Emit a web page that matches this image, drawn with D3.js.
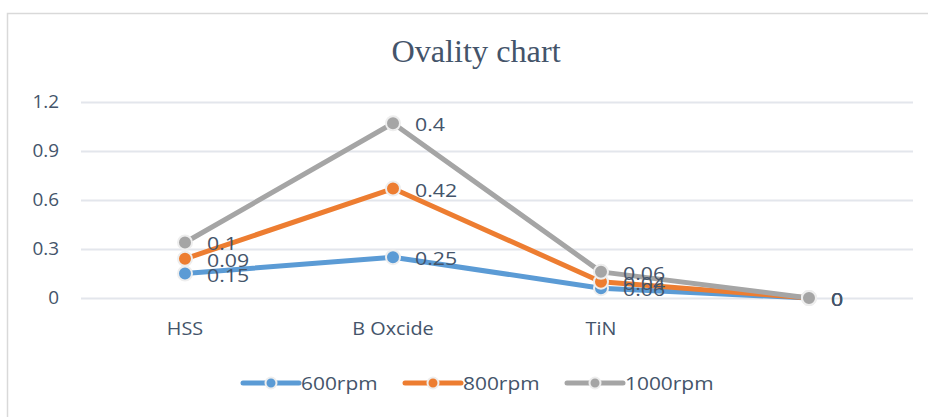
<!DOCTYPE html>
<html><head><meta charset="utf-8">
<script src="https://cdn.jsdelivr.net/npm/d3@7"></script>
<style>body{margin:0;background:#fff}svg{display:block}</style>
</head><body>
<svg id="c" width="928" height="417"></svg>
<script>
const categories = ["HSS", "B Oxcide", "TiN", ""];
const seriesNames = ["600rpm", "800rpm", "1000rpm"];
const rpm600 = [0.15, 0.25, 0.06, 0];
const rpm800 = [0.09, 0.42, 0.04, 0];
const rpm1000 = [0.1, 0.4, 0.06, 0];
const yTicks = [0, 0.3, 0.6, 0.9, 1.2];
const colors = ["#5b9bd5", "#ed7d31", "#a5a5a5"];

const svg = d3.select("#c");
const M = {l: 81, r: 913, t: 102, b: 298};
const txt = "#44546a";
const FONT = "Open Sans, Lato, sans-serif";

function stretch(sel, f) {
  sel.each(function () {
    const L = this.getComputedTextLength();
    if (L > 0) d3.select(this).attr("textLength", L * f).attr("lengthAdjust", "spacingAndGlyphs");
  });
}

svg.append("rect").attr("x", 7.5).attr("y", 13.5).attr("width", 940).attr("height", 420)
  .attr("fill", "#fff").attr("stroke", "#d9d9d9").attr("stroke-width", 1.5);

const title = svg.append("text").attr("x", 476).attr("y", 62).attr("text-anchor", "middle")
  .attr("font-family", "Liberation Serif, serif").attr("font-size", 31).attr("fill", txt)
  .text("Ovality chart");

const x = d3.scaleBand().domain(categories.map((d, i) => i)).range([M.l, M.r]);
const y = d3.scaleLinear().domain([0, 1.2]).range([M.b, M.t]);

const gy = svg.append("g").attr("transform", `translate(${M.l},0)`)
  .call(d3.axisLeft(y).tickValues(yTicks).tickSize(-(M.r - M.l)).tickPadding(22).tickFormat(d => d3.format("")(d)));
gy.select(".domain").remove();
gy.selectAll(".tick line").attr("stroke", "#e3e6ec").attr("stroke-width", 2);
gy.selectAll(".tick text").attr("font-family", FONT).attr("font-size", 18).attr("fill", txt);

const gx = svg.append("g").attr("transform", `translate(0,${M.b})`)
  .call(d3.axisBottom(x).tickSize(0).tickPadding(24).tickFormat(i => categories[i]));
gx.select(".domain").remove();
gx.selectAll(".tick text").attr("font-family", FONT).attr("font-size", 18).attr("fill", txt);

const raw = [rpm600, rpm800, rpm1000];
const stacked = [];
let acc = categories.map(() => 0);
raw.forEach(s => { acc = acc.map((a, i) => a + s[i]); stacked.push(acc.slice()); });

const cx = i => x(i) + x.bandwidth() / 2;
const line = d3.line().x((d, i) => cx(i)).y(d => y(d));

stacked.forEach((s, k) => {
  svg.append("path").attr("d", line(s)).attr("fill", "none")
    .attr("stroke", colors[k]).attr("stroke-width", 5).attr("stroke-linejoin", "round");
});
stacked.forEach((s, k) => {
  svg.append("g").selectAll("circle").data(s).join("circle")
    .attr("cx", (d, i) => cx(i)).attr("cy", d => y(d)).attr("r", 7)
    .attr("fill", colors[k]).attr("stroke", "#eeeeee").attr("stroke-width", 2);
});
const labels = [];
stacked.forEach((s, k) => {
  labels.push(svg.append("g").selectAll("text").data(s).join("text")
    .attr("x", (d, i) => cx(i) + 22).attr("y", d => y(d) + 8)
    .attr("font-family", FONT).attr("font-size", 19).attr("fill", txt)
    .text((d, i) => d3.format("")(raw[k][i])));
});

const legX = [243, 405, 567];
const legTexts = [];
seriesNames.forEach((n, k) => {
  const g = svg.append("g").attr("transform", `translate(${legX[k]},383)`);
  g.append("line").attr("x1", 0).attr("x2", 56).attr("y1", 0).attr("y2", 0)
    .attr("stroke", colors[k]).attr("stroke-width", 5).attr("stroke-linecap", "round");
  g.append("circle").attr("cx", 28).attr("cy", 0).attr("r", 5.5).attr("fill", colors[k])
    .attr("stroke", "#eeeeee").attr("stroke-width", 2);
  legTexts.push(g.append("text").attr("x", 58).attr("y", 7).attr("font-family", FONT)
    .attr("font-size", 19).attr("fill", txt).text(n));
});

stretch(title, 1.04);
stretch(gy.selectAll(".tick text"), 1.05);
stretch(gx.selectAll(".tick text"), 1.1);
labels.forEach(l => stretch(l, 1.12));
legTexts.forEach(t => stretch(t, 1.1));
</script>
</body></html>
